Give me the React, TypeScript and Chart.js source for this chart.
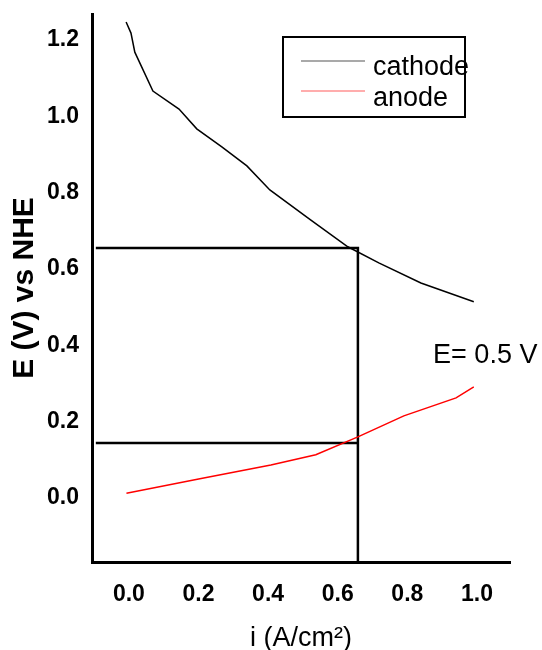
import React, { useEffect, useRef } from "react";
import { Chart, registerables } from "chart.js";

Chart.register(...registerables);

// ---- data ----
const cathodeCurrent = [-0.008, 0.006, 0.017, 0.069, 0.144, 0.195, 0.267, 0.339, 0.405, 0.52, 0.629, 0.718, 0.839, 0.991];
const cathodePotential = [1.247, 1.218, 1.168, 1.066, 1.019, 0.967, 0.92, 0.87, 0.807, 0.73, 0.658, 0.616, 0.563, 0.514];

const anodeCurrent = [-0.007, 0.204, 0.408, 0.537, 0.658, 0.79, 0.94, 0.991];
const anodePotential = [0.012, 0.05, 0.086, 0.113, 0.16, 0.215, 0.262, 0.291];

const operatingCurrent = 0.658;
const cathodeOperatingE = 0.655;
const anodeOperatingE = 0.144;
const guideStartCurrent = -0.095;

const xTickValues = [0.0, 0.2, 0.4, 0.6, 0.8, 1.0];
const yTickValues = [0.0, 0.2, 0.4, 0.6, 0.8, 1.0, 1.2];

const xRange = [-0.106, 1.095];
const yRange = [-0.168, 1.268];

const seriesNames = ["cathode", "anode"];
const annotationText = "E= 0.5 V";
const annotationPoint = [0.874, 0.354];

const FONT = "'Liberation Sans', Arial, Helvetica, sans-serif";

const toPoints = (xs: number[], ys: number[]) => xs.map((x, i) => ({ x, y: ys[i] }));

const overlayPlugin = {
  id: "overlay",
  afterDatasetsDraw(chart: any) {
    const { ctx, chartArea, scales } = chart;
    ctx.save();
    // legend box
    const bx = chartArea.left + 191;
    const by = chartArea.top + 23;
    const bw = 182;
    const bh = 80;
    ctx.lineWidth = 2;
    ctx.strokeStyle = "#000";
    ctx.strokeRect(bx, by, bw, bh);
    const legendColors = ["#555555", "#ff5c5c"];
    const rows = [by + 24, by + 54];
    const textBase = [by + 38, by + 69];
    seriesNames.forEach((name, i) => {
      ctx.beginPath();
      ctx.lineWidth = 1.2;
      ctx.strokeStyle = legendColors[i];
      ctx.moveTo(bx + 18, rows[i]);
      ctx.lineTo(bx + 82, rows[i]);
      ctx.stroke();
      ctx.fillStyle = "#000";
      ctx.font = `27px ${FONT}`;
      ctx.textAlign = "left";
      ctx.textBaseline = "alphabetic";
      ctx.fillText(name, bx + 90, textBase[i]);
    });
    // annotation
    const ax = scales.x.getPixelForValue(annotationPoint[0]);
    const ay = scales.y.getPixelForValue(annotationPoint[1]);
    ctx.font = `27px ${FONT}`;
    ctx.fillStyle = "#000";
    ctx.textAlign = "left";
    ctx.textBaseline = "alphabetic";
    ctx.fillText(annotationText, ax, ay);
    ctx.restore();
  },
};

export default function App() {
  const canvasRef = useRef<HTMLCanvasElement | null>(null);

  useEffect(() => {
    document.body.style.margin = "0";
    const canvas = canvasRef.current;
    if (!canvas) return;
    const chart = new Chart(canvas, {
      type: "line",
      data: {
        datasets: [
          {
            label: seriesNames[0],
            data: toPoints(cathodeCurrent, cathodePotential),
            borderColor: "#000000",
            borderWidth: 1.5,
            pointRadius: 0,
            tension: 0,
            fill: false,
          },
          {
            label: seriesNames[1],
            data: toPoints(anodeCurrent, anodePotential),
            borderColor: "#ff0000",
            borderWidth: 1.5,
            pointRadius: 0,
            tension: 0,
            fill: false,
          },
          {
            label: "guide-cathode",
            data: [
              { x: guideStartCurrent, y: cathodeOperatingE },
              { x: operatingCurrent, y: cathodeOperatingE },
              { x: operatingCurrent, y: yRange[0] },
            ],
            borderColor: "#000000",
            borderWidth: 2.5,
            pointRadius: 0,
            tension: 0,
            fill: false,
          },
          {
            label: "guide-anode",
            data: [
              { x: guideStartCurrent, y: anodeOperatingE },
              { x: operatingCurrent, y: anodeOperatingE },
            ],
            borderColor: "#000000",
            borderWidth: 2.5,
            pointRadius: 0,
            tension: 0,
            fill: false,
          },
        ],
      },
      options: {
        responsive: false,
        animation: false,
        maintainAspectRatio: false,
        layout: { padding: { top: 0, right: 32, left: 0, bottom: 0 } },
        plugins: {
          legend: { display: false },
          tooltip: { enabled: false },
        },
        scales: {
          x: {
            type: "linear",
            min: xRange[0],
            max: xRange[1],
            afterBuildTicks: (scale: any) => {
              scale.ticks = xTickValues.map((v) => ({ value: v }));
            },
            afterFit: (scale: any) => {
              scale.height = 88;
            },
            grid: { display: false, drawTicks: false },
            border: { display: true, width: 3, color: "#000" },
            ticks: {
              padding: 19,
              color: "#000",
              font: { family: FONT, size: 23, weight: "bold" },
              callback: (v: any) => Number(v).toFixed(1),
              maxRotation: 0,
              autoSkip: false,
            },
            title: {
              display: true,
              text: "i (A/cm²)",
              color: "#000",
              font: { family: FONT, size: 27, weight: "normal", lineHeight: 1.0 },
              padding: { top: 0, bottom: -2 },
            },
          },
          y: {
            type: "linear",
            min: yRange[0],
            max: yRange[1],
            afterBuildTicks: (scale: any) => {
              scale.ticks = yTickValues.map((v) => ({ value: v }));
            },
            afterFit: (scale: any) => {
              scale.width = 92;
              scale.paddingTop = 14;
              scale.paddingBottom = 0;
            },
            grid: { display: false, drawTicks: false },
            border: { display: true, width: 3, color: "#000" },
            ticks: {
              padding: 13,
              color: "#000",
              font: { family: FONT, size: 23, weight: "bold" },
              callback: (v: any) => Number(v).toFixed(1),
              autoSkip: false,
            },
            title: {
              display: true,
              text: "E (V) vs NHE",
              color: "#000",
              font: { family: FONT, size: 30, weight: "bold", lineHeight: 1.2 },
              padding: { top: 7, bottom: 0 },
            },
          },
        },
      },
      plugins: [overlayPlugin],
    } as any);
    return () => chart.destroy();
  }, []);

  return (
    <div style={{ width: 542, height: 650, background: "#fff" }}>
      <canvas ref={canvasRef} width={542} height={650} style={{ display: "block" }} />
    </div>
  );
}
